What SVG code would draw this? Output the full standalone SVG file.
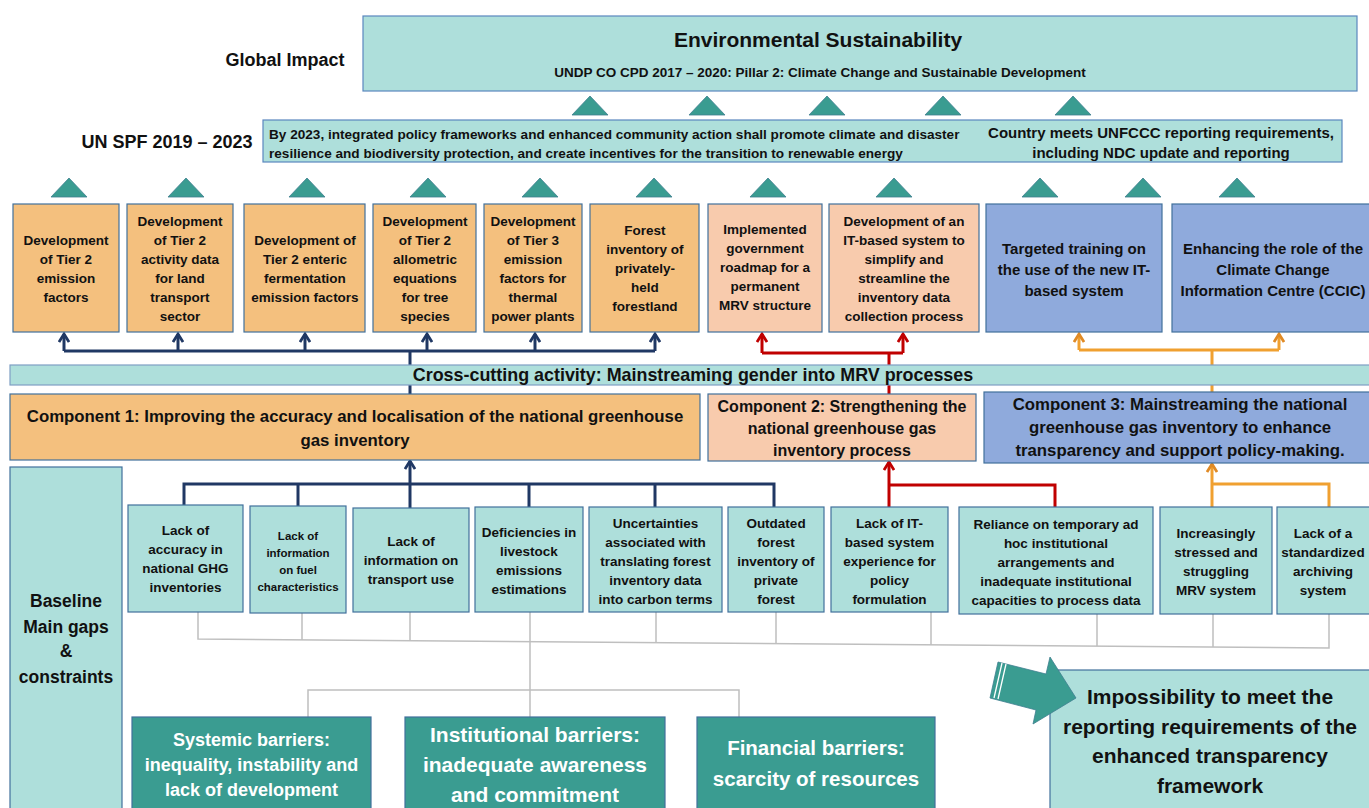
<svg xmlns="http://www.w3.org/2000/svg" width="1369" height="808" viewBox="0 0 1369 808">
<defs>
<style>
text{font-family:"Liberation Sans",Arial,sans-serif;font-weight:bold;fill:#111;text-anchor:middle}
.lt{fill:#AEDFDB;stroke:#41719C;stroke-width:1.2}
.bar{fill:#AEDFDB;stroke:#7F9FC4;stroke-width:1.2}
.or{fill:#F4C07E;stroke:#41719C;stroke-width:1.2}
.sa{fill:#F8CBAD;stroke:#41719C;stroke-width:1.2}
.bl{fill:#8FAADC;stroke:#41719C;stroke-width:1.2}
.dk{fill:#3A9C91;stroke:#41719C;stroke-width:1.2}
.tri{fill:#3A9C91;stroke:#3F7F8F;stroke-width:0.8}
.nv{fill:none;stroke:#203864;stroke-width:3}
.rd{fill:none;stroke:#C00000;stroke-width:3}
.og{fill:none;stroke:#F0A030;stroke-width:3}
.gy{fill:none;stroke:#BFBFBF;stroke-width:1.5}
.wt{fill:#fff}
.f12{font-size:13.5px}
.f11{font-size:11.5px}
.f15{font-size:15px}
</style>
<marker id="aN" viewBox="0 0 12 12" refX="10" refY="6" markerWidth="12" markerHeight="12" markerUnits="userSpaceOnUse" orient="auto"><path d="M2,1 L10,6 L2,11" fill="none" stroke="#203864" stroke-width="2.8"/></marker>
<marker id="aR" viewBox="0 0 12 12" refX="10" refY="6" markerWidth="12" markerHeight="12" markerUnits="userSpaceOnUse" orient="auto"><path d="M2,1 L10,6 L2,11" fill="none" stroke="#C00000" stroke-width="2.8"/></marker>
<marker id="aO" viewBox="0 0 12 12" refX="10" refY="6" markerWidth="12" markerHeight="12" markerUnits="userSpaceOnUse" orient="auto"><path d="M2,1 L10,6 L2,11" fill="none" stroke="#E08A25" stroke-width="2.8"/></marker>
</defs>
<rect width="1369" height="808" fill="#fff"/>

<g id="connectors">
<path class="nv" d="M410,394 V351 M64,351 H655"/>
<path class="nv" marker-end="url(#aN)" d="M64,351 V334"/>
<path class="nv" marker-end="url(#aN)" d="M178,351 V334"/>
<path class="nv" marker-end="url(#aN)" d="M305,351 V334"/>
<path class="nv" marker-end="url(#aN)" d="M427,351 V334"/>
<path class="nv" marker-end="url(#aN)" d="M535,351 V334"/>
<path class="nv" marker-end="url(#aN)" d="M655,351 V334"/>
<path class="rd" d="M889,394 V353 M762,353 H903"/>
<path class="rd" marker-end="url(#aR)" d="M762,353 V334"/>
<path class="rd" marker-end="url(#aR)" d="M903,353 V334"/>
<path class="og" d="M1212,392 V350 M1079,350 H1279"/>
<path class="og" marker-end="url(#aO)" d="M1079,350 V334"/>
<path class="og" marker-end="url(#aO)" d="M1279,350 V334"/>
<path class="nv" marker-end="url(#aN)" d="M410,508 V461"/>
<path class="nv" d="M184,505 V484 H774 V507 M298,484 V506 M529,484 V507 M655,484 V507"/>
<path class="rd" marker-end="url(#aR)" d="M889,507 V462"/>
<path class="rd" d="M889,485 H1055 V507"/>
<path class="og" marker-end="url(#aO)" d="M1212,507 V464"/>
<path class="og" d="M1212,484 H1329 V507"/>
<path class="gy" d="M198,612 V639 L1329,648 V614"/>
<path class="gy" d="M302,613 V640 M410,612 V641 M530,612 V717 M656,612 V642 M776,612 V643 M931,612 V645 M1097,614 V646 M1213,614 V647"/>
<path class="gy" d="M308,717 V690 H739 V717"/>
</g>

<g id="labels">
<text x="285" y="66" style="font-size:18px">Global Impact</text>
<text x="167" y="148" style="font-size:18px">UN SPF 2019 – 2023</text>
</g>

<g id="global-impact">
<rect class="lt" x="363" y="16" width="994" height="75" style="stroke:#5A87BE"/>
<text x="818" y="47" style="font-size:21px">Environmental Sustainability</text>
<text x="820" y="77" style="font-size:13.5px">UNDP CO CPD 2017 – 2020: Pillar 2: Climate Change and Sustainable Development</text>
</g>

<g id="triangles-top">
<polygon class="tri" points="572,115 590,96 608,115"/>
<polygon class="tri" points="689,115 707,96 725,115"/>
<polygon class="tri" points="809,115 827,96 845,115"/>
<polygon class="tri" points="925,115 943,96 961,115"/>
<polygon class="tri" points="1055,115 1073,96 1091,115"/>
</g>

<g id="un-spf">
<rect class="lt" x="263" y="120" width="1079" height="42" style="stroke:#5A87BE"/>
<text x="269" y="139" style="font-size:13.6px;text-anchor:start">By 2023, integrated policy frameworks and enhanced community action shall promote climate and disaster</text>
<text x="269" y="158" style="font-size:13.6px;text-anchor:start">resilience and biodiversity protection, and create incentives for the transition to renewable energy</text>
<text x="1161" y="138" style="font-size:15px">Country meets UNFCCC reporting requirements,</text>
<text x="1161" y="158" style="font-size:15px">including NDC update and reporting</text>
</g>

<g id="triangles-outputs">
<polygon class="tri" points="51,197 69,178 87,197"/>
<polygon class="tri" points="168,197 186,178 204,197"/>
<polygon class="tri" points="289,197 307,178 325,197"/>
<polygon class="tri" points="410,197 428,178 446,197"/>
<polygon class="tri" points="522,197 540,178 558,197"/>
<polygon class="tri" points="636,197 654,178 672,197"/>
<polygon class="tri" points="750,197 768,178 786,197"/>
<polygon class="tri" points="876,197 894,178 912,197"/>
<polygon class="tri" points="1022,197 1040,178 1058,197"/>
<polygon class="tri" points="1125,197 1143,178 1161,197"/>
<polygon class="tri" points="1219,197 1237,178 1255,197"/>
</g>

<g id="out1">
<rect class="or" x="13" y="204" width="106" height="128"/>
<text class="f12" x="66"><tspan x="66" y="244.5">Development</tspan><tspan x="66" y="263.5">of Tier 2</tspan><tspan x="66" y="282.5">emission</tspan><tspan x="66" y="301.5">factors</tspan></text>
</g>
<g id="out2">
<rect class="or" x="127" y="204" width="106" height="128"/>
<text class="f12" x="180"><tspan x="180" y="225.5">Development</tspan><tspan x="180" y="244.5">of Tier 2</tspan><tspan x="180" y="263.5">activity data</tspan><tspan x="180" y="282.5">for land</tspan><tspan x="180" y="301.5">transport</tspan><tspan x="180" y="320.5">sector</tspan></text>
</g>
<g id="out3">
<rect class="or" x="244" y="204" width="121" height="128"/>
<text class="f12" x="305"><tspan x="305" y="244.5">Development of</tspan><tspan x="305" y="263.5">Tier 2 enteric</tspan><tspan x="305" y="282.5">fermentation</tspan><tspan x="305" y="301.5">emission factors</tspan></text>
</g>
<g id="out4">
<rect class="or" x="373" y="204" width="103" height="128"/>
<text class="f12" x="425"><tspan x="425" y="225.5">Development</tspan><tspan x="425" y="244.5">of Tier 2</tspan><tspan x="425" y="263.5">allometric</tspan><tspan x="425" y="282.5">equations</tspan><tspan x="425" y="301.5">for tree</tspan><tspan x="425" y="320.5">species</tspan></text>
</g>
<g id="out5">
<rect class="or" x="484" y="204" width="98" height="128"/>
<text class="f12" x="533"><tspan x="533" y="225.5">Development</tspan><tspan x="533" y="244.5">of Tier 3</tspan><tspan x="533" y="263.5">emission</tspan><tspan x="533" y="282.5">factors for</tspan><tspan x="533" y="301.5">thermal</tspan><tspan x="533" y="320.5">power plants</tspan></text>
</g>
<g id="out6">
<rect class="or" x="590" y="204" width="109" height="128"/>
<text class="f12" x="645"><tspan x="645" y="235">Forest</tspan><tspan x="645" y="254">inventory of</tspan><tspan x="645" y="273">privately-</tspan><tspan x="645" y="292">held</tspan><tspan x="645" y="311">forestland</tspan></text>
</g>
<g id="out7">
<rect class="sa" x="708" y="204" width="114" height="128"/>
<text class="f12" x="765"><tspan x="765" y="234">Implemented</tspan><tspan x="765" y="253">government</tspan><tspan x="765" y="272">roadmap for a</tspan><tspan x="765" y="291">permanent</tspan><tspan x="765" y="310">MRV structure</tspan></text>
</g>
<g id="out8">
<rect class="sa" x="829" y="204" width="150" height="128"/>
<text class="f12" x="904"><tspan x="904" y="225.5">Development of an</tspan><tspan x="904" y="244.5">IT-based system to</tspan><tspan x="904" y="263.5">simplify and</tspan><tspan x="904" y="282.5">streamline the</tspan><tspan x="904" y="301.5">inventory data</tspan><tspan x="904" y="320.5">collection process</tspan></text>
</g>
<g id="out9">
<rect class="bl" x="986" y="204" width="176" height="128"/>
<text class="f15" x="1074"><tspan x="1074" y="254">Targeted training on</tspan><tspan x="1074" y="275">the use of the new IT-</tspan><tspan x="1074" y="296">based system</tspan></text>
</g>
<g id="out10">
<rect class="bl" x="1172" y="204" width="200" height="128"/>
<text class="f15" x="1273"><tspan x="1273" y="254">Enhancing the role of the</tspan><tspan x="1273" y="275">Climate Change</tspan><tspan x="1273" y="296">Information Centre (CCIC)</tspan></text>
</g>

<g id="cross-cutting">
<rect class="bar" x="10" y="365" width="1362" height="20"/>
<text x="693" y="381" style="font-size:17.9px">Cross-cutting activity: Mainstreaming gender into MRV processes</text>
</g>

<g id="component1">
<rect class="or" x="10" y="394" width="690" height="66"/>
<text x="355" y="422" style="font-size:16.8px">Component 1: Improving the accuracy and localisation of the national greenhouse</text>
<text x="355" y="446" style="font-size:16.8px">gas inventory</text>
</g>
<g id="component2">
<rect class="sa" x="708" y="394" width="268" height="67"/>
<text x="842" y="412" style="font-size:16px">Component 2: Strengthening the</text>
<text x="842" y="434" style="font-size:16px">national greenhouse gas</text>
<text x="842" y="456" style="font-size:16px">inventory process</text>
</g>
<g id="component3">
<rect class="bl" x="984" y="392" width="388" height="71"/>
<text x="1180" y="410" style="font-size:16.8px">Component 3: Mainstreaming the national</text>
<text x="1180" y="433" style="font-size:16.8px">greenhouse gas inventory to enhance</text>
<text x="1180" y="456" style="font-size:16.8px">transparency and support policy-making.</text>
</g>

<g id="baseline">
<rect class="lt" x="10" y="467" width="112" height="348"/>
<text x="66" y="607" style="font-size:17.5px">Baseline</text>
<text x="66" y="633" style="font-size:17.5px">Main gaps</text>
<text x="66" y="657" style="font-size:17.5px">&amp;</text>
<text x="66" y="683" style="font-size:17.5px">constraints</text>
</g>

<g id="gap1">
<rect class="lt" x="128" y="505" width="115" height="107"/>
<text class="f12"><tspan x="185.5" y="535">Lack of</tspan><tspan x="185.5" y="554">accuracy in</tspan><tspan x="185.5" y="573">national GHG</tspan><tspan x="185.5" y="592">inventories</tspan></text>
</g>
<g id="gap2">
<rect class="lt" x="250" y="506" width="96" height="107"/>
<text class="f11"><tspan x="298" y="539.5">Lack of</tspan><tspan x="298" y="556.5">information</tspan><tspan x="298" y="573.5">on fuel</tspan><tspan x="298" y="590.5">characteristics</tspan></text>
</g>
<g id="gap3">
<rect class="lt" x="353" y="508" width="116" height="104"/>
<text class="f12"><tspan x="411" y="546">Lack of</tspan><tspan x="411" y="565">information on</tspan><tspan x="411" y="584">transport use</tspan></text>
</g>
<g id="gap4">
<rect class="lt" x="475" y="507" width="108" height="105"/>
<text class="f12"><tspan x="529" y="536.5">Deficiencies in</tspan><tspan x="529" y="555.5">livestock</tspan><tspan x="529" y="574.5">emissions</tspan><tspan x="529" y="593.5">estimations</tspan></text>
</g>
<g id="gap5">
<rect class="lt" x="589" y="507" width="133" height="105"/>
<text class="f12"><tspan x="655.5" y="528">Uncertainties</tspan><tspan x="655.5" y="547">associated with</tspan><tspan x="655.5" y="566">translating forest</tspan><tspan x="655.5" y="585">inventory data</tspan><tspan x="655.5" y="604">into carbon terms</tspan></text>
</g>
<g id="gap6">
<rect class="lt" x="728" y="507" width="96" height="105"/>
<text class="f12"><tspan x="776" y="528">Outdated</tspan><tspan x="776" y="547">forest</tspan><tspan x="776" y="566">inventory of</tspan><tspan x="776" y="585">private</tspan><tspan x="776" y="604">forest</tspan></text>
</g>
<g id="gap7">
<rect class="lt" x="831" y="507" width="117" height="105"/>
<text class="f12"><tspan x="889.5" y="528">Lack of IT-</tspan><tspan x="889.5" y="547">based system</tspan><tspan x="889.5" y="566">experience for</tspan><tspan x="889.5" y="585">policy</tspan><tspan x="889.5" y="604">formulation</tspan></text>
</g>
<g id="gap8">
<rect class="lt" x="959" y="507" width="194" height="107"/>
<text class="f12"><tspan x="1056" y="529">Reliance on temporary ad</tspan><tspan x="1056" y="548">hoc institutional</tspan><tspan x="1056" y="567">arrangements and</tspan><tspan x="1056" y="586">inadequate institutional</tspan><tspan x="1056" y="605">capacities to process data</tspan></text>
</g>
<g id="gap9">
<rect class="lt" x="1160" y="507" width="112" height="107"/>
<text class="f12"><tspan x="1216" y="538">Increasingly</tspan><tspan x="1216" y="557">stressed and</tspan><tspan x="1216" y="576">struggling</tspan><tspan x="1216" y="595">MRV system</tspan></text>
</g>
<g id="gap10">
<rect class="lt" x="1277" y="507" width="95" height="107"/>
<text class="f12"><tspan x="1323" y="538">Lack of a</tspan><tspan x="1323" y="557">standardized</tspan><tspan x="1323" y="576">archiving</tspan><tspan x="1323" y="595">system</tspan></text>
</g>

<g id="systemic">
<rect class="dk" x="132" y="717" width="239" height="98"/>
<text class="wt" x="251.5" y="746" style="font-size:18px">Systemic barriers:</text>
<text class="wt" x="251.5" y="771" style="font-size:18px">inequality, instability and</text>
<text class="wt" x="251.5" y="796" style="font-size:18px">lack of development</text>
</g>
<g id="institutional">
<rect class="dk" x="405" y="717" width="260" height="98"/>
<text class="wt" x="535" y="742" style="font-size:21px">Institutional barriers:</text>
<text class="wt" x="535" y="772" style="font-size:21px">inadequate awareness</text>
<text class="wt" x="535" y="802" style="font-size:21px">and commitment</text>
</g>
<g id="financial">
<rect class="dk" x="697" y="717" width="238" height="98"/>
<text class="wt" x="816" y="755" style="font-size:20.5px">Financial barriers:</text>
<text class="wt" x="816" y="786" style="font-size:20.5px">scarcity of resources</text>
</g>

<g id="impossibility">
<rect class="lt" x="1050" y="670" width="322" height="145"/>
<text x="1210" y="704" style="font-size:21px">Impossibility to meet the</text>
<text x="1210" y="734" style="font-size:21px">reporting requirements of the</text>
<text x="1210" y="763" style="font-size:21px">enhanced transparency</text>
<text x="1210" y="793" style="font-size:21px">framework</text>
</g>

<g id="block-arrow">
<polygon points="998,662 1046,674 1050,657 1076,698 1033,724 1036,710 990,698" fill="#3A9C91" stroke="#3F7F8F" stroke-width="0.8"/>
<path d="M1002,663 L994,698 M1006,664 L998,699" stroke="#fff" stroke-width="1.3"/>
</g>
</svg>
